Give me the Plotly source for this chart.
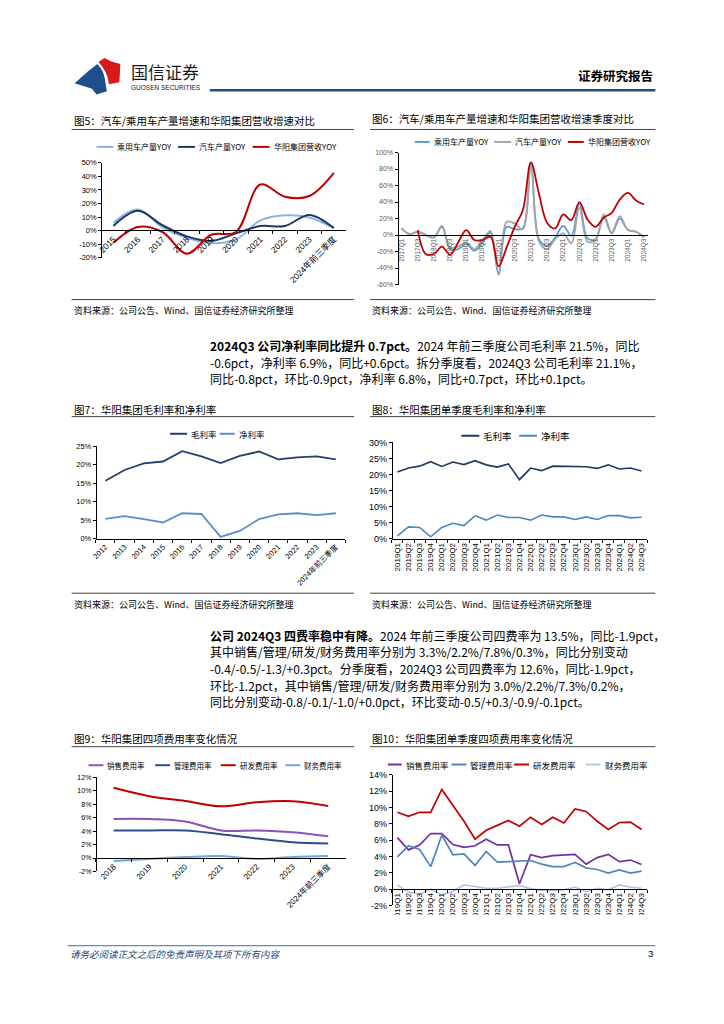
import plotly.graph_objects as go

W, H = 724, 1024
FONT = "Noto Sans CJK SC"
TFONT = "Liberation Sans, Noto Sans CJK SC"


def px(x):
    return x / W


def py(y):
    return 1 - y / H


# ---------------- data ----------------
years5 = ["2015", "2016", "2017", "2018", "2019", "2020", "2021", "2022", "2023", "2024年前三季度"]
pv_yoy5 = [5.8, 15.5, 2.5, -5.2, -9.2, -6.5, 7.5, 11.3, 9.7, 1.9]
auto_yoy5 = [3.5, 14.6, 4.0, -4.2, -7.5, -2.0, 3.4, 3.4, 11.6, 1.9]
rev_yoy5 = [-9.0, 2.7, -1.0, -17.0, -3.0, -1.0, 34.0, 25.0, 25.5, 42.5]

quarters6 = ["2017Q1", "2017Q2", "2017Q3", "2017Q4", "2018Q1", "2018Q2", "2018Q3", "2018Q4",
             "2019Q1", "2019Q2", "2019Q3", "2019Q4", "2020Q1", "2020Q2", "2020Q3", "2020Q4",
             "2021Q1", "2021Q2", "2021Q3", "2021Q4", "2022Q1", "2022Q2", "2022Q3", "2022Q4",
             "2023Q1", "2023Q2", "2023Q3", "2023Q4", "2024Q1", "2024Q2", "2024Q3"]
pv_yoy6 = [8, 1, 4, 0, -3, 10, -17, -17, -11, -19, -10, 3, -48, 10, 7, 8,
           85, -5, -13, -3, 11, -1, 38, -4, -5, 22, 2, 20, 6, 4, -3]
auto_yoy6 = [8, 1, 4, 0, -3, 11, -15, -14, -9, -17, -6, 5, -46, 16, 14, 7,
             88, -8, -17, -5, 2, -10, 33, -8, -6, 25, 3, 23, 6, 4, -3]
rev_yoy6 = [None, None, 6, -23, -23, -14, -24, -9, 6, -6, -6, -2, -38, -15, 10, 30,
            88, 50, 15, 8, 25, 18, 40, 19, 10, 21, 27, 43, 51, 42, 37]

years7 = ["2012", "2013", "2014", "2015", "2016", "2017", "2018", "2019", "2020",
          "2021", "2022", "2023", "2024年前三季度"]
gm7 = [15.7, 18.6, 20.4, 20.9, 23.7, 22.3, 20.5, 22.4, 23.6, 21.5, 22.0, 22.3, 21.5]
nm7 = [5.4, 6.1, 5.3, 4.4, 6.9, 6.7, 0.5, 2.1, 5.3, 6.6, 6.9, 6.4, 6.9]

quarters8 = ["2019Q1", "2019Q2", "2019Q3", "2019Q4", "2020Q1", "2020Q2", "2020Q3", "2020Q4",
             "2021Q1", "2021Q2", "2021Q3", "2021Q4", "2022Q1", "2022Q2", "2022Q3", "2022Q4",
             "2023Q1", "2023Q2", "2023Q3", "2023Q4", "2024Q1", "2024Q2", "2024Q3"]
gm8 = [20.8, 22.0, 22.6, 24.0, 22.5, 23.9, 23.1, 24.3, 23.0, 22.3, 23.3, 18.4,
       22.0, 21.2, 22.6, 22.5, 22.4, 22.4, 21.9, 23.0, 21.7, 22.0, 21.1]
nm8 = [0.9, 3.7, 3.5, 0.6, 3.5, 4.8, 4.1, 7.2, 5.8, 7.4, 6.6, 6.6,
       5.8, 7.4, 6.8, 6.8, 6.0, 6.8, 6.0, 7.2, 7.2, 6.5, 6.7]

years9 = ["2018", "2019", "2020", "2021", "2022", "2023", "2024年前三季度"]
sell9 = [5.8, 5.8, 5.45, 4.1, 4.1, 3.85, 3.25]
admin9 = [4.1, 4.1, 4.1, 3.55, 2.9, 2.35, 2.15]
rd9 = [10.45, 9.2, 8.5, 7.7, 8.3, 8.45, 7.75]
fin9 = [-0.45, -0.15, 0.15, 0.3, -0.15, 0.15, 0.3]

quarters10 = quarters8
sell10 = [6.3, 4.8, 5.4, 6.8, 6.8, 5.45, 5.1, 5.3, 6.1, 5.4, 5.4, 0.65,
          4.2, 3.85, 4.1, 4.15, 4.25, 3.05, 3.85, 4.25, 3.35, 3.55, 3.0]
admin10 = [3.95, 5.3, 4.85, 2.75, 6.6, 4.2, 4.3, 2.9, 4.6, 3.3, 3.35, 3.45,
           3.5, 3.05, 2.75, 2.75, 3.25, 2.6, 2.4, 1.95, 2.35, 1.95, 2.2]
rd10 = [9.4, 8.9, 9.4, 9.4, 12.2, 10.3, 8.3, 6.1, 7.2, 7.8, 8.4, 7.7,
        8.8, 7.9, 8.8, 8.1, 9.8, 9.5, 8.3, 7.3, 8.15, 8.2, 7.3]
fin10 = [0.5, -0.35, -0.6, 0.0, -0.7, -0.3, 0.5, 0.3, 0.1, 0.1, 0.25, 0.45,
         0.05, -0.15, -0.15, -0.1, 0.25, -0.3, 0.1, -0.1, 0.5, 0.25, 0.1]

src_text = "资料来源：公司公告、Wind、国信证券经济研究所整理"

fig = go.Figure()
shapes = []
annos = []


def hline(x0, x1, y, color="#404040", width=1):
    shapes.append(dict(type="line", xref="paper", yref="paper", x0=px(x0), x1=px(x1),
                       y0=py(y), y1=py(y), line=dict(color=color, width=width)))


def text(x, y, s, size=12, color="#000", xanchor="left", family=FONT):
    annos.append(dict(x=px(x), y=py(y), xref="paper", yref="paper", text=s, showarrow=False,
                      xanchor=xanchor, yanchor="middle", font=dict(size=size, color=color, family=family)))


def legend_item(x0, x1, y, color, label, size, width=2):
    hline(x0, x1, y, color=color, width=width)
    text(x1 + 2, y, label, size=size, color="#000")


def path(points, color):
    d = "M " + " L ".join(f"{px(a):.5f},{py(b):.5f}" for a, b in points) + " Z"
    shapes.append(dict(type="path", xref="paper", yref="paper", path=d,
                       fillcolor=color, line=dict(width=0)))


def add_line(x, y, xa, ya, color, width=2, spline=False):
    fig.add_trace(go.Scatter(x=x, y=y, xaxis=xa, yaxis=ya, mode="lines",
                             line=dict(color=color, width=width, shape="spline" if spline else "linear"),
                             showlegend=False, hoverinfo="skip", connectgaps=False))


def pct_ticks(lo, hi, step):
    vals = list(range(lo, hi + 1, step))
    return vals, [f"{v}%" for v in vals]


# ---------------- header ----------------
path([(71, 79), (84, 67.5), (94, 59.5), (97.5, 64), (100, 69), (101.5, 75), (102.5, 82),
      (103.5, 87), (93, 90.5), (88.5, 84.5)], "#1F4E8C")
path([(95, 57.5), (101, 53.5), (108, 57), (117, 59.5), (116, 78), (105.5, 80), (104.5, 74),
      (102.5, 68.5), (99.5, 63)], "#D7191C")
text(126, 67, "国信证券", size=17, color="#1a1a1a")
text(126, 83, "GUOSEN SECURITIES", size=6.5, color="#1a1a1a", family="Liberation Sans")
text(655, 71, "<b>证券研究报告</b>", size=12.5, xanchor="right")
hline(207, 655, 86, color="#1F4E79", width=2.5)

# ---------------- chart titles / rules ----------------
text(68, 116.5, "图5：汽车/乘用车产量增速和华阳集团营收增速对比", size=10.5)
hline(68, 352, 125.7)
text(368, 115, "图6：汽车/乘用车产量增速和华阳集团营收增速季度对比", size=10.5)
hline(368, 655, 125.7)
hline(68, 352, 297.5)
hline(368, 655, 297.5)
text(68, 308.5, src_text, size=9)
text(368, 308.5, src_text, size=9)

text(68, 408, "图7：华阳集团毛利率和净利率", size=10.5)
hline(68, 352, 415.7)
text(368, 408, "图8：华阳集团单季度毛利率和净利率", size=10.5)
hline(368, 655, 415.7)
hline(68, 352, 594)
hline(368, 655, 594)
text(68, 605, src_text, size=9)
text(368, 605, src_text, size=9)

text(68, 741, "图9：华阳集团四项费用率变化情况", size=10.5)
hline(68, 352, 749)
text(368, 741, "图10：华阳集团单季度四项费用率变化情况", size=10.5)
hline(368, 655, 749)

# ---------------- body text ----------------
para1 = [
    "<b>2024Q3 公司净利率同比提升 0.7pct。</b>2024 年前三季度公司毛利率 21.5%，同比",
    "-0.6pct，净利率 6.9%，同比+0.6pct。拆分季度看，2024Q3 公司毛利率 21.1%，",
    "同比-0.8pct，环比-0.9pct，净利率 6.8%，同比+0.7pct，环比+0.1pct。",
]
for i, s in enumerate(para1):
    text(205, 344 + i * 16.6, s, size=12)

para2 = [
    "<b>公司 2024Q3 四费率稳中有降。</b>2024 年前三季度公司四费率为 13.5%，同比-1.9pct，",
    "其中销售/管理/研发/财务费用率分别为 3.3%/2.2%/7.8%/0.3%，同比分别变动",
    "-0.4/-0.5/-1.3/+0.3pct。分季度看，2024Q3 公司四费率为 12.6%，同比-1.9pct，",
    "环比-1.2pct，其中销售/管理/研发/财务费用率分别为 3.0%/2.2%/7.3%/0.2%，",
    "同比分别变动-0.8/-0.1/-1.0/+0.0pct，环比变动-0.5/+0.3/-0.9/-0.1pct。",
]
for i, s in enumerate(para2):
    text(205, 636.3 + i * 16.85, s, size=12)

# ---------------- footer ----------------
hline(64, 655, 950, color="#3A6EA5", width=1)
text(64, 958, "<i>请务必阅读正文之后的免责声明及其项下所有内容</i>", size=9.5, color="#1F4E79")
text(655, 958, "3", size=9.5, xanchor="right", family="Liberation Sans")

# ---------------- chart 5 ----------------
c5 = dict(light="#8DB3E2", dark="#1F3864", red="#C00000")
add_line(years5, pv_yoy5, "x", "y", c5["light"], 2, True)
add_line(years5, auto_yoy5, "x", "y", c5["dark"], 2, True)
add_line(years5, rev_yoy5, "x", "y", c5["red"], 2, True)
legend_item(93, 110, 143.3, c5["light"], "乘用车产量YOY", 8)
legend_item(175, 192, 143.3, c5["dark"], "汽车产量YOY", 8)
legend_item(250, 267, 143.3, c5["red"], "华阳集团营收YOY", 8)

# ---------------- chart 6 ----------------
c6 = dict(light="#5B9BD5", gray="#A5A5A5", red="#C00000")
add_line(quarters6, pv_yoy6, "x2", "y2", c6["light"], 1.8, True)
add_line(quarters6, auto_yoy6, "x2", "y2", c6["gray"], 1.8, True)
add_line(quarters6, rev_yoy6, "x2", "y2", c6["red"], 1.8, True)
legend_item(413, 428, 138.3, c6["light"], "乘用车产量YOY", 8)
legend_item(493, 510, 138.3, c6["gray"], "汽车产量YOY", 8)
legend_item(567, 583, 138.3, c6["red"], "华阳集团营收YOY", 8)

# ---------------- chart 7 ----------------
c7 = dict(gm="#243F6B", nm="#5B8DC8")
add_line(years7, gm7, "x3", "y3", c7["gm"], 1.8)
add_line(years7, nm7, "x3", "y3", c7["nm"], 1.8)
legend_item(167, 184, 433, c7["gm"], "毛利率", 8.5)
legend_item(217, 232, 433, c7["nm"], "净利率", 8.5)

# ---------------- chart 8 ----------------
c8 = dict(gm="#1F3864", nm="#4A86C5")
add_line(quarters8, gm8, "x4", "y4", c8["gm"], 1.6)
add_line(quarters8, nm8, "x4", "y4", c8["nm"], 1.6)
legend_item(460, 478, 435, c8["gm"], "毛利率", 9.5)
legend_item(518, 536, 435, c8["nm"], "净利率", 9.5)

# ---------------- chart 9 ----------------
c9 = dict(sell="#8E4FC0", admin="#2F4D8A", rd="#C00000", fin="#6FA8DC")
add_line(years9, sell9, "x5", "y5", c9["sell"], 2, True)
add_line(years9, admin9, "x5", "y5", c9["admin"], 2, True)
add_line(years9, rd9, "x5", "y5", c9["rd"], 2, True)
add_line(years9, fin9, "x5", "y5", c9["fin"], 2, True)
legend_item(85, 100, 767.7, c9["sell"], "销售费用率", 7.5)
legend_item(152, 167, 767.7, c9["admin"], "管理费用率", 7.5)
legend_item(218, 233, 767.7, c9["rd"], "研发费用率", 7.5)
legend_item(283, 298, 767.7, c9["fin"], "财务费用率", 7.5)

# ---------------- chart 10 ----------------
c10 = dict(sell="#7030A0", admin="#4F86C0", rd="#C00000", fin="#B4C7E7")
add_line(quarters10, sell10, "x6", "y6", c10["sell"], 1.7)
add_line(quarters10, admin10, "x6", "y6", c10["admin"], 1.7)
add_line(quarters10, rd10, "x6", "y6", c10["rd"], 1.7)
add_line(quarters10, fin10, "x6", "y6", c10["fin"], 1.7)
legend_item(386, 400, 767, c10["sell"], "销售费用率", 8.5)
legend_item(450, 465, 767, c10["admin"], "管理费用率", 8.5)
legend_item(513, 528, 767, c10["rd"], "研发费用率", 8.5)
legend_item(585, 600, 767, c10["fin"], "财务费用率", 8.5)

# clip chart 10 tick labels at bottom like the source page
shapes.append(dict(type="rect", xref="paper", yref="paper", x0=px(365), x1=px(660),
                   y0=py(945), y1=py(919), fillcolor="white", line=dict(width=0), layer="above"))


# ---------------- axes ----------------
def xcat(x0, x1, ypos, n, angle, size, color="#000", tickvals=None, ticks=True):
    d = dict(domain=[px(x0), px(x1)], anchor="free", position=py(ypos), type="category",
             range=[-0.5, n - 0.5], showline=True, linecolor="#000", linewidth=1,
             showgrid=False, zeroline=False, tickangle=angle,
             tickfont=dict(size=size, color=color, family=TFONT), fixedrange=True)
    if ticks:
        d.update(ticks="outside", tickson="boundaries", ticklen=3, tickcolor="#000")
    if tickvals is not None:
        d.update(tickmode="array", tickvals=tickvals, ticktext=tickvals)
    return d


def yval(x, ytop, ybot, lo, hi, step, size, color="#000"):
    tv, tt = pct_ticks(lo, hi, step)
    return dict(domain=[py(ybot), py(ytop)], anchor="free", position=px(x), range=[lo, hi],
                tickmode="array", tickvals=tv, ticktext=tt, showline=True, linecolor="#000",
                linewidth=1, ticks="outside", ticklen=3, tickcolor="#000", showgrid=False,
                zeroline=False, tickfont=dict(size=size, color=color, family=TFONT), fixedrange=True)


layout = dict(
    width=W, height=H, margin=dict(l=0, r=0, t=0, b=0),
    paper_bgcolor="white", plot_bgcolor="rgba(0,0,0,0)",
    showlegend=False, shapes=shapes, annotations=annos,
    xaxis=xcat(97.7, 344, 227.3, len(years5), -45, 8.5),
    yaxis=yval(97.7, 159.3, 255.3, -20, 50, 10, 7.5),
    xaxis2=xcat(395.7, 647.7, 232.3, len(quarters6), -90, 6.5, "#595959",
                tickvals=quarters6[::2], ticks=False),
    yaxis2=yval(395.7, 149, 282.3, -60, 100, 20, 7, "#595959"),
    xaxis3=xcat(92.3, 343.3, 539, len(years7), -45, 7.5),
    yaxis3=yval(92.3, 445.7, 539, 0, 25, 5, 7.5),
    xaxis4=xcat(390, 646.7, 539, len(quarters8), -90, 8),
    yaxis4=yval(390, 441.7, 539, 0, 30, 5, 9),
    xaxis5=xcat(92.3, 344, 861.3, len(years9), -45, 8),
    yaxis5=yval(92.3, 780, 875, -2, 12, 2, 7),
    xaxis6=xcat(390, 646.7, 892.7, len(quarters10), -90, 8),
    yaxis6=yval(390, 777.3, 909.3, -2, 14, 2, 9),
)
fig.update_layout(**layout)
fig.write_html("out.html", config={"displayModeBar": False},
               post_script="document.body.style.margin='0';document.body.style.padding='0';")
